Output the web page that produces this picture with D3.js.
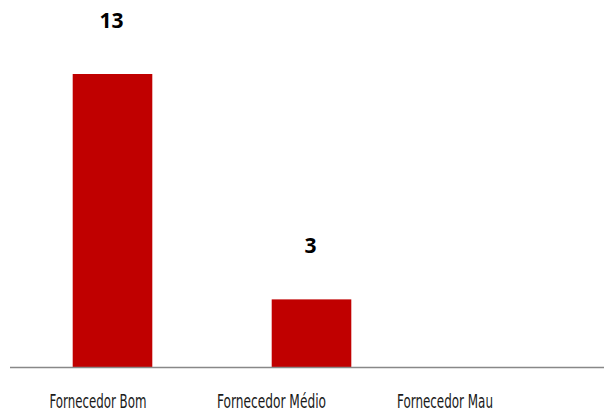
<!DOCTYPE html>
<html>
<head>
<meta charset="utf-8">
<script src="https://cdn.jsdelivr.net/npm/d3@7"></script>
<style>
  html, body { margin: 0; padding: 0; background: #fff; }
  svg { display: block; }
</style>
</head>
<body>
<script>
// Supplier rating counts
const categories = ["Fornecedor Bom", "Fornecedor Médio", "Fornecedor Mau"];
const values = [13, 3, 0];
const valueLabels = ["13", "3", ""];
const captionWidths = [97, 109, 96];

const W = 604, H = 412;
const baseY = 367;

const svg = d3.select("body").append("svg")
  .attr("width", W).attr("height", H);

// Bars sit on their own band scale
const xBar = d3.scaleBand()
  .domain(categories)
  .range([13, 610])
  .paddingInner(0.6)
  .paddingOuter(0.3);

// Category captions are spaced on a tighter scale
const xLab = d3.scalePoint()
  .domain(categories)
  .range([98, 445]);

const y = d3.scaleLinear()
  .domain([0, 13])
  .range([baseY, 74]);

svg.selectAll("rect.bar")
  .data(values)
  .join("rect")
  .attr("class", "bar")
  .attr("x", (d, i) => xBar(categories[i]))
  .attr("width", xBar.bandwidth())
  .attr("y", d => y(d))
  .attr("height", d => y(0) - y(d))
  .attr("fill", "#C00000");

// Baseline
svg.append("line")
  .attr("x1", 10).attr("x2", W)
  .attr("y1", baseY + 0.5).attr("y2", baseY + 0.5)
  .attr("stroke", "#888").attr("stroke-width", 1.5);

// Value labels above the bars
svg.selectAll("text.val")
  .data(values)
  .join("text")
  .attr("class", "val")
  .attr("x", (d, i) => xBar(categories[i]) + xBar.bandwidth() / 2 - 1)
  .attr("y", d => y(d) - 46)
  .attr("text-anchor", "middle")
  .attr("font-family", "'Open Sans', 'Liberation Sans', sans-serif")
  .attr("font-weight", "bold")
  .attr("font-size", 21)
  .attr("fill", "#000")
  .text((d, i) => valueLabels[i]);

// Category captions, set in a condensed style
svg.selectAll("text.cat")
  .data(categories)
  .join("text")
  .attr("class", "cat")
  .attr("x", (d, i) => xLab(d) - captionWidths[i] / 2)
  .attr("y", 408)
  .attr("font-family", "'Liberation Sans Narrow', 'DejaVu Sans Condensed', sans-serif")
  .attr("font-size", 19.5)
  .attr("textLength", (d, i) => captionWidths[i])
  .attr("lengthAdjust", "spacingAndGlyphs")
  .attr("fill", "#1a1a1a")
  .text(d => d);
</script>
</body>
</html>
